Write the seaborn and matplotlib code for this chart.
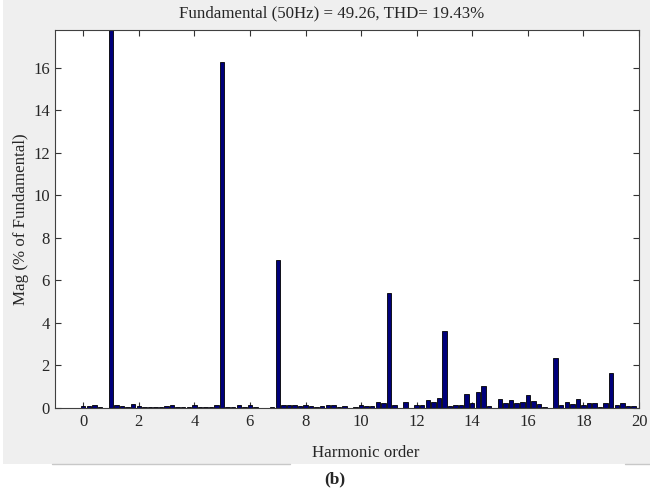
import numpy as np
import pandas as pd
import matplotlib
matplotlib.use("Agg")
import matplotlib.pyplot as plt
import seaborn as sns
from matplotlib.patches import Rectangle
from matplotlib.lines import Line2D

# Harmonic spectrum (10 Hz bins, expressed as harmonic order of 50 Hz)
harmonic_order = [round(0.2 * i, 1) for i in range(101)]
magnitude_pct = [
    0.10, 0.10, 0.13, 0.06, 0.02,   # 0.0 - 0.8
    100.0, 0.12, 0.09, 0.06, 0.17,  # 1.0 - 1.8
    0.10, 0.04, 0.07, 0.07, 0.07,   # 2.0 - 2.8
    0.08, 0.12, 0.07, 0.06, 0.05,   # 3.0 - 3.8
    0.12, 0.05, 0.05, 0.06, 0.12,   # 4.0 - 4.8
    16.25, 0.06, 0.06, 0.14, 0.06,  # 5.0 - 5.8
    0.16, 0.05, 0.01, 0.01, 0.06,   # 6.0 - 6.8
    6.98, 0.12, 0.15, 0.15, 0.08,   # 7.0 - 7.8
    0.13, 0.10, 0.05, 0.10, 0.14,   # 8.0 - 8.8
    0.14, 0.06, 0.10, 0.01, 0.05,   # 9.0 - 9.8
    0.12, 0.08, 0.08, 0.26, 0.24,   # 10.0 - 10.8
    5.42, 0.14, 0.01, 0.26, 0.01,   # 11.0 - 11.8
    0.14, 0.12, 0.38, 0.28, 0.47,   # 12.0 - 12.8
    3.62, 0.10, 0.15, 0.15, 0.66,   # 13.0 - 13.8
    0.22, 0.74, 1.04, 0.08, 0.02,   # 14.0 - 14.8
    0.44, 0.25, 0.39, 0.22, 0.30,   # 15.0 - 15.8
    0.61, 0.33, 0.17, 0.06, 0.02,   # 16.0 - 16.8
    2.37, 0.12, 0.30, 0.20, 0.40,   # 17.0 - 17.8
    0.14, 0.25, 0.25, 0.03, 0.25,   # 18.0 - 18.8
    1.63, 0.13, 0.25, 0.08, 0.08,   # 19.0 - 19.8
    0.0,                            # 20.0
]
x_ticks = list(range(0, 21, 2))
title_text = "Fundamental (50Hz) = 49.26, THD= 19.43%"
x_label = "Harmonic order"
y_label = "Mag (% of Fundamental)"
caption = "(b)"

df = pd.DataFrame({"order": harmonic_order, "mag": magnitude_pct})

sns.set_theme(style="white")
plt.rcParams["font.family"] = ["Liberation Serif", "DejaVu Serif"]

fig = plt.figure(figsize=(6.5, 4.88), dpi=100)
fig.patch.set_facecolor("white")

# grey panel behind the plot, with a white strip for the caption
band_bottom = 464
fig.patches.append(Rectangle((3 / 650, 1 - band_bottom / 488), 647 / 650, band_bottom / 488,
                             transform=fig.transFigure, facecolor="#efefef",
                             edgecolor="none", zorder=-10))
for x0, x1 in [(52, 290), (625, 650)]:
    fig.lines.append(Line2D([x0 / 650, x1 / 650], [1 - band_bottom / 488] * 2,
                            transform=fig.transFigure, color="#c8c8c8", lw=1,
                            zorder=-9))

ax_left, ax_right, ax_top, ax_bottom = 55.4, 639.0, 29.5, 408.0
ax = fig.add_axes([ax_left / 650, 1 - ax_bottom / 488,
                   (ax_right - ax_left) / 650, (ax_bottom - ax_top) / 488])
ax.set_zorder(5)
ax.set_facecolor("white")

sns.barplot(data=df, x="order", y="mag", native_scale=True, width=0.8,
            color="#00007a", saturation=1, edgecolor="black", linewidth=0.6,
            ax=ax, errorbar=None)

ax.set_xlim(-1, 20)
ax.set_ylim(0, 17.8)
ax.set_xticks(x_ticks)
ax.set_xticklabels([str(t) for t in x_ticks])
ax.set_yticks(range(0, 17, 2))
ax.tick_params(axis="both", which="both", direction="in", length=4, width=0.8,
               labelsize=12, color="#333333", top=True, right=True,
               bottom=True, left=True, pad=4)
for s in ax.spines.values():
    s.set_color("#404040")
    s.set_linewidth(0.8)
    s.set_visible(True)

ax_w = ax_right - ax_left
ax.set_title(title_text, fontsize=12.2, pad=8.6, x=(332 - ax_left) / ax_w)
ax.set_xlabel(x_label, fontsize=12.2, labelpad=12)
ax.xaxis.set_label_coords((366 - ax_left) / ax_w, -0.098)
ax.set_ylabel(y_label, fontsize=12.2, labelpad=3)

fig.text(335 / 650, 1 - 479 / 488, caption, ha="center", va="center",
         fontsize=12.5, fontweight="bold")

fig.savefig("out.png", dpi=100, facecolor=fig.get_facecolor())
